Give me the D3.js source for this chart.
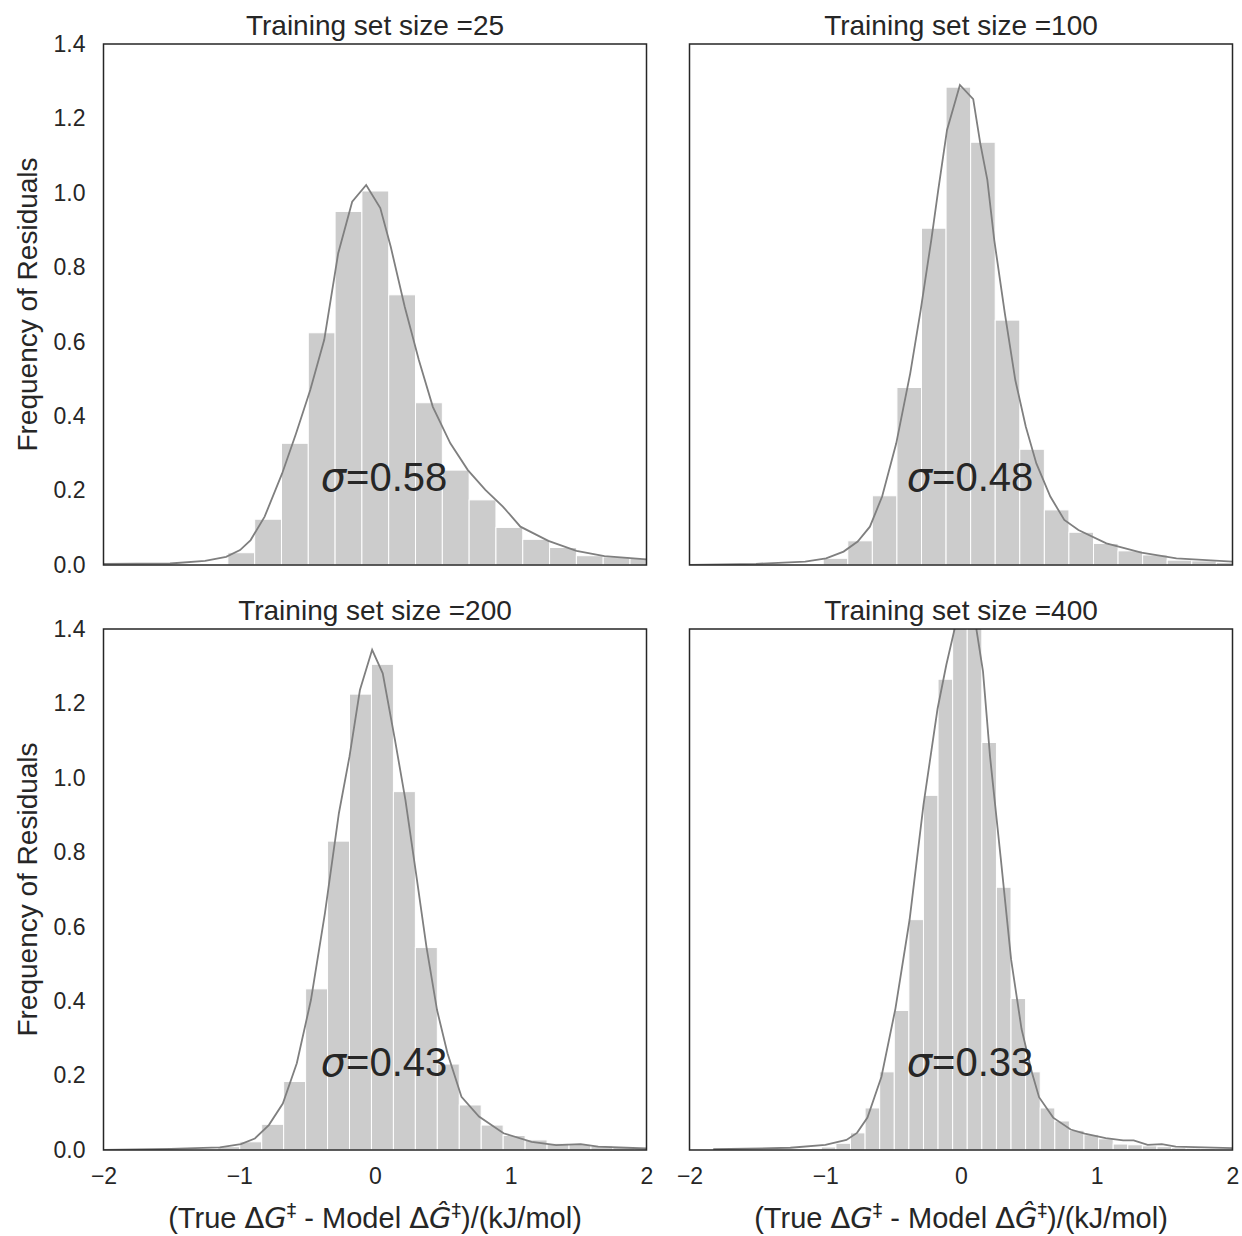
<!DOCTYPE html>
<html>
<head>
<meta charset="utf-8">
<script src="https://cdn.jsdelivr.net/npm/d3@7"></script>
<style>
  body { margin: 0; background: #fff; }
  text { fill: #262626; }
</style>
</head>
<body>
<div id="chart"></div>
<script>
// panel titles and sigma annotations
var titles = ["Training set size =25", "Training set size =100", "Training set size =200", "Training set size =400"];
var sigmas = ["0.58", "0.48", "0.43", "0.33"];

// histogram bins: left edge of first bin and bin width, one per panel
var binStart = [-1.084, -1.015, -1.158, -1.029];
var binWidth = [0.1975, 0.181, 0.1617, 0.1075];

// bar heights (density)
var hist25 = [0.033, 0.123, 0.327, 0.624, 0.950, 1.005, 0.726, 0.436, 0.255, 0.175, 0.101, 0.069, 0.047, 0.025, 0.022, 0.018, 0.013];
var hist100 = [0.018, 0.065, 0.186, 0.477, 0.905, 1.284, 1.136, 0.658, 0.311, 0.148, 0.088, 0.058, 0.038, 0.027, 0.013, 0.011, 0.007];
var hist200 = [0.009, 0.022, 0.069, 0.184, 0.433, 0.830, 1.225, 1.305, 0.963, 0.544, 0.231, 0.121, 0.067, 0.039, 0.027, 0.018, 0.015, 0.011, 0.009, 0.006];
var hist400 = [0.008, 0.018, 0.046, 0.113, 0.210, 0.375, 0.619, 0.953, 1.265, 1.46, 1.42, 1.095, 0.706, 0.407, 0.210, 0.113, 0.078, 0.053, 0.041, 0.030, 0.016, 0.014, 0.011, 0.009, 0.006, 0.005, 0.004, 0.003];

// kde curves
var kdeX25 = [-2.0, -1.51, -1.252, -1.097, -0.994, -0.916, -0.813, -0.684, -0.581, -0.477, -0.374, -0.271, -0.168, -0.065, 0.039, 0.116, 0.219, 0.323, 0.426, 0.555, 0.684, 0.813, 0.942, 1.071, 1.277, 1.484, 1.69, 2.0];
var kdeY25 = [0.003, 0.004, 0.011, 0.022, 0.040, 0.067, 0.130, 0.246, 0.354, 0.470, 0.605, 0.838, 0.976, 1.021, 0.959, 0.855, 0.694, 0.551, 0.425, 0.327, 0.255, 0.202, 0.157, 0.103, 0.065, 0.038, 0.024, 0.015];
var kdeX100 = [-2.0, -1.51, -1.148, -0.994, -0.865, -0.761, -0.671, -0.581, -0.477, -0.374, -0.297, -0.219, -0.168, -0.103, -0.039, -0.008, 0.090, 0.142, 0.194, 0.245, 0.323, 0.400, 0.477, 0.555, 0.658, 0.761, 0.865, 1.071, 1.329, 1.587, 2.0];
var kdeY100 = [0.0, 0.003, 0.009, 0.018, 0.036, 0.063, 0.103, 0.184, 0.327, 0.515, 0.685, 0.873, 1.007, 1.169, 1.250, 1.290, 1.252, 1.133, 1.035, 0.873, 0.676, 0.497, 0.372, 0.273, 0.184, 0.121, 0.094, 0.058, 0.033, 0.018, 0.009];
var kdeX200 = [-2.0, -1.505, -1.143, -0.988, -0.885, -0.782, -0.679, -0.576, -0.472, -0.369, -0.266, -0.188, -0.111, -0.021, 0.057, 0.147, 0.224, 0.302, 0.379, 0.457, 0.534, 0.637, 0.766, 0.947, 1.154, 1.334, 1.515, 1.644, 2.0];
var kdeY200 = [0.0, 0.003, 0.007, 0.016, 0.031, 0.067, 0.125, 0.233, 0.403, 0.636, 0.905, 1.057, 1.236, 1.344, 1.281, 1.102, 0.941, 0.744, 0.546, 0.376, 0.260, 0.143, 0.090, 0.045, 0.022, 0.013, 0.016, 0.009, 0.004];
var kdeX400 = [-1.825, -1.257, -0.999, -0.844, -0.766, -0.689, -0.586, -0.483, -0.379, -0.276, -0.173, -0.108, -0.044, 0.033, 0.111, 0.162, 0.214, 0.292, 0.369, 0.446, 0.524, 0.575, 0.679, 0.808, 0.911, 1.066, 1.195, 1.272, 1.375, 1.479, 1.582, 2.0];
var kdeY400 = [0.002, 0.006, 0.014, 0.027, 0.046, 0.087, 0.197, 0.380, 0.618, 0.929, 1.185, 1.304, 1.405, 1.47, 1.405, 1.286, 1.057, 0.787, 0.512, 0.325, 0.206, 0.142, 0.087, 0.055, 0.044, 0.032, 0.026, 0.026, 0.014, 0.016, 0.009, 0.005];

var xTicks = [-2, -1, 0, 1, 2];
var yTicks = [0, 0.2, 0.4, 0.6, 0.8, 1.0, 1.2, 1.4];

var hists = [hist25, hist100, hist200, hist400];
var kdeXs = [kdeX25, kdeX100, kdeX200, kdeX400];
var kdeYs = [kdeY25, kdeY100, kdeY200, kdeY400];

var width = 1242, height = 1236;
var panelW = 543, panelH = 521;
var lefts = [103.5, 689.5];
var tops = [44, 629];
var sansFont = "'Liberation Sans', Arial, sans-serif";
var mathFont = "'DejaVu Sans', sans-serif";

var svg = d3.select("#chart")
    .append("svg")
    .attr("width", width)
    .attr("height", height)
    .style("font-family", sansFont);

var x = d3.scaleLinear().domain([-2, 2]).range([0, panelW]);
var y = d3.scaleLinear().domain([0, 1.4]).range([panelH, 0]);

var line = d3.line()
    .x(function(d) { return x(d[0]); })
    .y(function(d) { return y(d[1]); });

for (var i = 0; i < 4; i++) {
    var col = i % 2, row = Math.floor(i / 2);
    var g = svg.append("g")
        .attr("transform", "translate(" + lefts[col] + "," + tops[row] + ")");

    g.append("clipPath").attr("id", "clip" + i)
        .append("rect").attr("width", panelW).attr("height", panelH);

    var plot = g.append("g").attr("clip-path", "url(#clip" + i + ")");

    // histogram bars
    var bars = hists[i].map(function(h, k) {
        return { x0: binStart[i] + k * binWidth[i], x1: binStart[i] + (k + 1) * binWidth[i], h: h };
    });
    plot.selectAll("rect.bar")
        .data(bars)
        .enter()
        .append("rect")
        .attr("class", "bar")
        .attr("x", function(d) { return x(d.x0); })
        .attr("width", function(d) { return x(d.x1) - x(d.x0); })
        .attr("y", function(d) { return y(d.h); })
        .attr("height", function(d) { return y(0) - y(d.h); })
        .attr("fill", "#cccccc")
        .attr("stroke", "#ffffff")
        .attr("stroke-width", 1);

    // kde line
    var pts = kdeXs[i].map(function(v, k) { return [v, kdeYs[i][k]]; });
    plot.append("path")
        .datum(pts)
        .attr("d", line)
        .attr("fill", "none")
        .attr("stroke", "#7f7f7f")
        .attr("stroke-width", 1.8);

    // sigma annotation
    var st = g.append("text")
        .attr("x", x(-0.4))
        .attr("y", y(0.2))
        .style("font-family", mathFont)
        .style("font-size", "40px");
    st.append("tspan").style("font-style", "italic").text("σ");
    st.append("tspan").style("font-family", sansFont).text("=" + sigmas[i]);

    // frame
    g.append("rect")
        .attr("width", panelW)
        .attr("height", panelH)
        .attr("fill", "none")
        .attr("stroke", "#262626")
        .attr("stroke-width", 1.5);

    // title
    g.append("text")
        .attr("x", panelW / 2)
        .attr("y", -9)
        .attr("text-anchor", "middle")
        .style("font-size", "28px")
        .text(titles[i]);

    // y axis on left column
    if (col === 0) {
        var ya = g.append("g")
            .call(d3.axisLeft(y).tickValues(yTicks).tickSize(0).tickPadding(18).tickFormat(d3.format(".1f")));
        ya.select(".domain").remove();
        ya.selectAll("text").style("font-size", "23px").style("font-family", sansFont).attr("fill", "#262626");

        g.append("text")
            .attr("transform", "translate(" + (27 - lefts[col]) + "," + (panelH / 2) + ") rotate(-90)")
            .attr("text-anchor", "middle")
            .attr("dy", "0.35em")
            .style("font-size", "28px")
            .text("Frequency of Residuals");
    }

    // x axis on bottom row
    if (row === 1) {
        var xa = g.append("g")
            .attr("transform", "translate(0," + panelH + ")")
            .call(d3.axisBottom(x).tickValues(xTicks).tickSize(0).tickPadding(18).tickFormat(d3.format("d")));
        xa.select(".domain").remove();
        xa.selectAll("text").style("font-size", "23px").style("font-family", sansFont).attr("fill", "#262626");

        var xl = g.append("text")
            .attr("x", panelW / 2)
            .attr("y", panelH + 78)
            .attr("text-anchor", "middle")
            .style("font-size", "29px");
        xl.append("tspan").text("(True ");
        xl.append("tspan").style("font-family", mathFont).text("Δ");
        xl.append("tspan").style("font-family", mathFont).style("font-style", "italic").text("G");
        xl.append("tspan").style("font-family", mathFont).style("font-size", "19px").attr("dy", "-11").text("‡");
        xl.append("tspan").attr("dy", "11").text(" - Model ");
        xl.append("tspan").style("font-family", mathFont).text("Δ");
        xl.append("tspan").style("font-family", mathFont).style("font-style", "italic").text("Ĝ");
        xl.append("tspan").style("font-family", mathFont).style("font-size", "19px").attr("dy", "-11").text("‡");
        xl.append("tspan").attr("dy", "11").text(")/(kJ/mol)");
    }
}
</script>
</body>
</html>
